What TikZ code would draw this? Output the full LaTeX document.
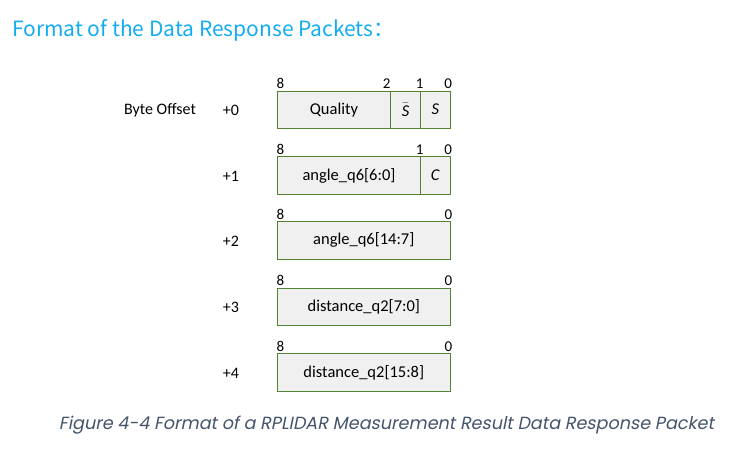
\documentclass[tikz,border=0pt]{standalone}
\usepackage{fontspec}
\usetikzlibrary{positioning}
\newfontfamily\boxfont{Carlito}
\newfontfamily\titlefont{Noto Sans CJK SC}
\newfontfamily\capfont[FakeSlant=0.2]{Poppins}
\definecolor{fieldgreen}{RGB}{84,130,53}
\definecolor{fieldgray}{RGB}{240,240,240}
\definecolor{titleblue}{RGB}{20,172,240}
\definecolor{capgray}{RGB}{68,84,106}
\tikzset{
  field/.style={draw=fieldgreen, fill=fieldgray, line width=0.9pt, outer sep=0pt, minimum height=37.5pt, inner sep=0pt, font=\boxfont\fontsize{16.5}{18}\selectfont},
  bit/.style={anchor=south, inner sep=0pt, yshift=2pt, font=\boxfont\fontsize{15}{16}\selectfont},
  offset/.style={font=\boxfont\fontsize{16}{18}\selectfont}
}

\begin{document}
\begin{tikzpicture}[x=1pt, y=-1pt]
\useasboundingbox (0,0) rectangle (744,451);

\node[anchor=base west, inner sep=0pt, text=titleblue, font=\titlefont\fontsize{21}{24}\selectfont] at (12,36) (title) {Format of the Data Response Packets：};

\node[field, minimum width=113.4pt] at (334,109.7) (quality) {Quality};
\node[field, minimum width=30pt, right=0pt of quality] (sbar) {$\bar{\textit{S}}$};
\node[field, minimum width=29.5pt, right=0pt of sbar] (s) {\textit{S}};

\node[field, minimum width=143.4pt] at (349,175.5) (angleL) {angle\_q6[6:0]};
\node[field, minimum width=29.5pt, right=0pt of angleL] (c) {\textit{C}};

\node[field, minimum width=173pt] at (363.8,240.4) (angleH) {angle\_q6[14:7]};
\node[field, minimum width=173pt] at (363.8,307) (distL) {distance\_q2[7:0]};
\node[field, minimum width=173pt] at (363.8,372.4) (distH) {distance\_q2[15:8]};

\node[bit, xshift=3pt] at (quality.north west) (b08) {8};
\node[bit, xshift=-4pt] at (quality.north east) (b02) {2};
\node[bit, xshift=-1pt] at (sbar.north east) (b01) {1};
\node[bit, xshift=-2pt] at (s.north east) (b00) {0};
\node[bit, xshift=3pt] at (angleL.north west) (b18) {8};
\node[bit, xshift=-1pt] at (angleL.north east) (b11) {1};
\node[bit, xshift=-2pt] at (c.north east) (b10) {0};
\node[bit, xshift=3pt] at (angleH.north west) (b28) {8};
\node[bit, xshift=-2pt] at (angleH.north east) (b20) {0};
\node[bit, xshift=3pt] at (distL.north west) (b38) {8};
\node[bit, xshift=-2pt] at (distL.north east) (b30) {0};
\node[bit, xshift=3pt] at (distH.north west) (b48) {8};
\node[bit, xshift=-2pt] at (distH.north east) (b40) {0};

\node[offset] at (160,110.5) (byteoffset) {Byte Offset};
\node[offset] at (231,110.5) (off0) {+0};
\node[offset] at (231,176) (off1) {+1};
\node[offset] at (231,241) (off2) {+2};
\node[offset] at (231,307.5) (off3) {+3};
\node[offset] at (231,373) (off4) {+4};

\node[anchor=base, inner sep=0pt, text=capgray, font=\capfont\fontsize{17.6}{20}\selectfont] at (386.5,429) (caption) {Figure 4-4 Format of a RPLIDAR Measurement Result Data Response Packet};
\end{tikzpicture}
\end{document}
